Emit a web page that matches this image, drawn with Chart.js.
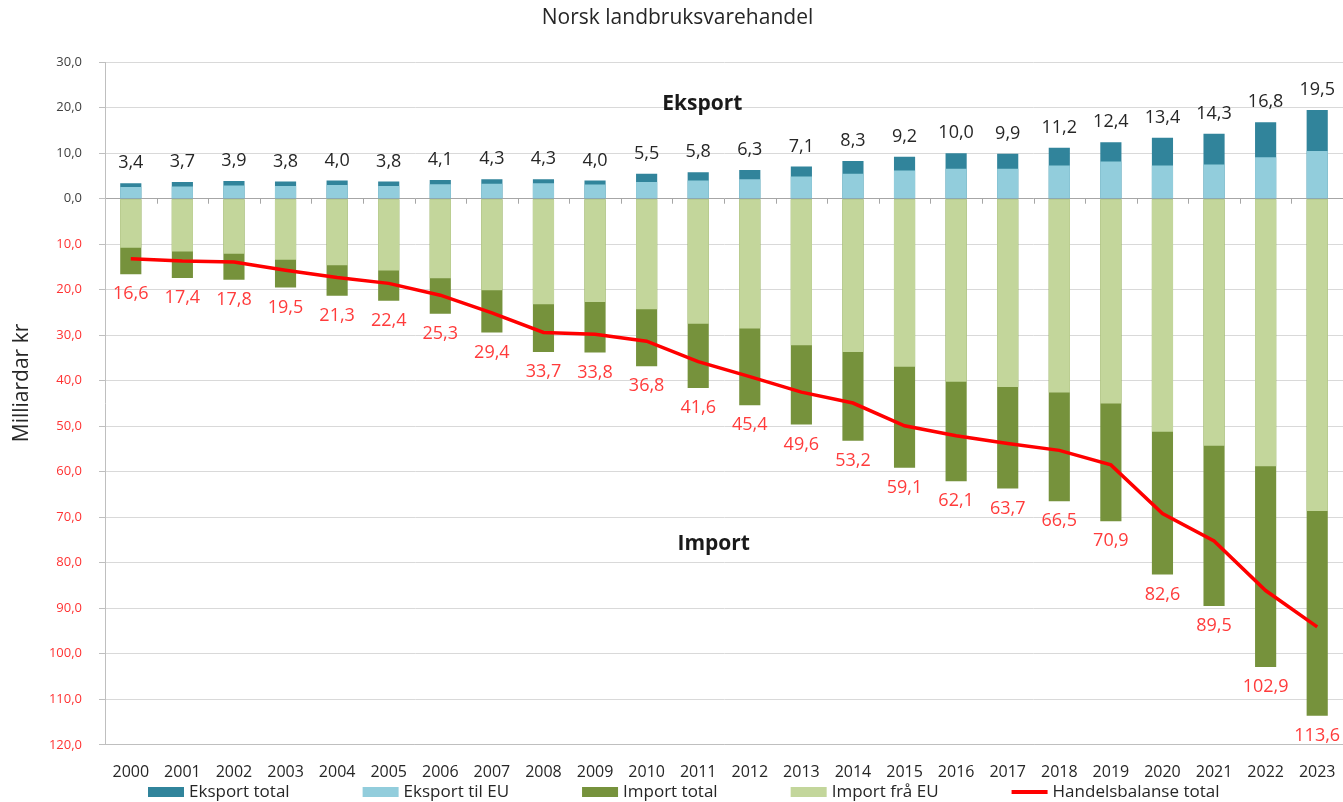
<!DOCTYPE html>
<html>
<head>
<meta charset="utf-8">
<script src="https://cdn.jsdelivr.net/npm/chart.js@4.4.1/dist/chart.umd.min.js"></script>
<style>
  html, body { margin: 0; padding: 0; background: #ffffff; }
  #wrap { width: 1343px; height: 802px; }
</style>
</head>
<body>
<div id="wrap"><canvas id="c" width="1343" height="802"></canvas></div>
<script>
const years = ['2000','2001','2002','2003','2004','2005','2006','2007','2008','2009','2010','2011','2012','2013','2014','2015','2016','2017','2018','2019','2020','2021','2022','2023'];
const exportTotal = [3.4,3.7,3.9,3.8,4.0,3.8,4.1,4.3,4.3,4.0,5.5,5.8,6.3,7.1,8.3,9.2,10.0,9.9,11.2,12.4,13.4,14.3,16.8,19.5];
const exportEU = [2.6,2.7,2.9,2.8,3.0,2.8,3.2,3.3,3.4,3.1,3.7,4.0,4.3,4.9,5.5,6.2,6.6,6.6,7.3,8.2,7.3,7.5,9.1,10.5];
const importTotal = [16.6,17.4,17.8,19.5,21.3,22.4,25.3,29.4,33.7,33.8,36.8,41.6,45.4,49.6,53.2,59.1,62.1,63.7,66.5,70.9,82.6,89.5,102.9,113.6];
const importEU = [10.8,11.6,12.1,13.4,14.6,15.8,17.5,20.1,23.2,22.7,24.3,27.5,28.5,32.2,33.7,36.9,40.2,41.4,42.6,45.0,51.2,54.3,58.8,68.6];
const balance = [-13.2,-13.7,-13.9,-15.7,-17.3,-18.6,-21.2,-25.1,-29.4,-29.8,-31.3,-35.8,-39.1,-42.5,-44.9,-49.9,-52.1,-53.8,-55.3,-58.5,-69.2,-75.2,-86.1,-94.1];
const seriesNames = ['Eksport total','Eksport til EU','Import total','Import frå EU','Handelsbalanse total'];
const yTicks = { min: -120, max: 30, step: 10 };
const titleText = 'Norsk landbruksvarehandel';
const yTitle = 'Milliardar kr';
const noteExport = { text: 'Eksport', x: 11.08, y: 20.8 };
const noteImport = { text: 'Import', x: 11.3, y: -75.9 };

const colors = {
  expTot: '#31849b', expEU: '#92cddc', impTot: '#76923c', impEU: '#c3d69b', bal: '#ff0000'
};
const FONT = "'Open Sans', sans-serif";
const fmt = v => Math.abs(v).toFixed(1).replace('.', ',');
const neg = arr => arr.map(v => -v);

const labelsPlugin = {
  id: 'labelsPlugin',
  afterDatasetsDraw(chart) {
    const ctx = chart.ctx;
    ctx.save();
    ctx.font = '18px ' + FONT;
    ctx.textAlign = 'center';
    ctx.textBaseline = 'middle';
    const mExp = chart.getDatasetMeta(0);
    ctx.fillStyle = '#262626';
    mExp.data.forEach((bar, i) => {
      ctx.fillText(fmt(exportTotal[i]), bar.x, bar.y - 20);
    });
    const mImp = chart.getDatasetMeta(2);
    ctx.fillStyle = '#ff3b3b';
    mImp.data.forEach((bar, i) => {
      ctx.fillText(fmt(importTotal[i]), bar.x, bar.y + 20);
    });
    const xs = chart.scales.x, ys = chart.scales.y;
    ctx.fillStyle = '#1a1a1a';
    ctx.font = 'bold 21px ' + FONT;
    [noteExport, noteImport].forEach(n => {
      ctx.fillText(n.text, xs.getPixelForValue(n.x), ys.getPixelForValue(n.y));
    });
    ctx.restore();
  },
  beforeDatasetsDraw(chart) {
    const ctx = chart.ctx;
    const xs = chart.scales.x, ys = chart.scales.y;
    const y0 = ys.getPixelForValue(0);
    ctx.save();
    ctx.strokeStyle = '#a6a6a6';
    ctx.lineWidth = 1;
    ctx.beginPath();
    for (let i = 1; i < years.length; i++) {
      const x = Math.round(xs.getPixelForValue(i - 0.5)) + 0.5;
      ctx.moveTo(x, y0);
      ctx.lineTo(x, y0 + 5);
    }
    ctx.stroke();
    ctx.restore();
  },
  afterDraw(chart) {
    const ctx = chart.ctx;
    ctx.save();
    ctx.font = '21px ' + FONT;
    ctx.fillStyle = '#262626';
    ctx.textAlign = 'center';
    ctx.textBaseline = 'middle';
    ctx.translate(22, 383);
    ctx.rotate(-Math.PI / 2);
    ctx.fillText(yTitle, 0, 0);
    ctx.restore();

    ctx.save();
    ctx.font = '17px ' + FONT;
    ctx.textBaseline = 'middle';
    ctx.textAlign = 'left';
    const cy = 792;
    let x = 148;
    const boxW = 36, gapText = 5, gapItem = 73;
    chart.data.datasets.forEach((ds) => {
      if (ds.type === 'line') {
        ctx.fillStyle = ds.borderColor;
        ctx.fillRect(x, cy - 2, boxW, 4);
      } else {
        ctx.fillStyle = ds.backgroundColor;
        ctx.fillRect(x, cy - 5, boxW, 10);
      }
      ctx.fillStyle = '#262626';
      ctx.fillText(ds.label, x + boxW + gapText, cy);
      x += boxW + gapText + ctx.measureText(ds.label).width + gapItem;
    });
    ctx.restore();
  }
};

new Chart(document.getElementById('c'), {
  data: {
    labels: years,
    datasets: [
      { type: 'bar', label: seriesNames[0], data: exportTotal, backgroundColor: colors.expTot, grouped: false, order: 3 },
      { type: 'bar', label: seriesNames[1], data: exportEU, backgroundColor: colors.expEU, grouped: false, order: 2 },
      { type: 'bar', label: seriesNames[2], data: neg(importTotal), backgroundColor: colors.impTot, grouped: false, order: 3 },
      { type: 'bar', label: seriesNames[3], data: neg(importEU), backgroundColor: colors.impEU, grouped: false, order: 2 },
      { type: 'line', label: seriesNames[4], data: balance, borderColor: colors.bal, backgroundColor: colors.bal, borderWidth: 3.5, pointRadius: 0, tension: 0, order: 1 }
    ]
  },
  options: {
    responsive: false,
    devicePixelRatio: 1,
    animation: false,
    datasets: { bar: { barPercentage: 0.41, categoryPercentage: 1.0 } },
    layout: { padding: { left: 12, right: 0, top: 0, bottom: 20 } },
    plugins: {
      legend: { display: false },
      tooltip: { enabled: false },
      title: {
        display: true, text: titleText, color: '#262626',
        font: { family: FONT, size: 21, weight: 'normal' },
        padding: { top: 5, bottom: 32 }
      }
    },
    scales: {
      x: {
        offset: true,
        grid: { display: true, drawOnChartArea: false, drawTicks: true, tickLength: 18, tickColor: 'rgba(0,0,0,0)' },
        border: { display: true, color: '#bfbfbf' },
        ticks: { color: '#262626', font: { family: FONT, size: 16 }, padding: 0, maxRotation: 0, autoSkip: false }
      },
      y: {
        min: yTicks.min, max: yTicks.max,
        afterFit: s => { s.width = 93; },
        grid: {
          color: c => (c.tick && c.tick.value === 0) ? '#a6a6a6' : '#d9d9d9',
          tickColor: '#bfbfbf', tickLength: 6, drawTicks: true
        },
        border: { display: true, color: '#bfbfbf' },
        ticks: {
          stepSize: yTicks.step, padding: 17,
          font: { family: FONT, size: 13 },
          color: c => c.tick.value < 0 ? '#ff3333' : '#404040',
          callback: v => fmt(v)
        }
      }
    }
  },
  plugins: [labelsPlugin]
});
</script>
</body>
</html>
